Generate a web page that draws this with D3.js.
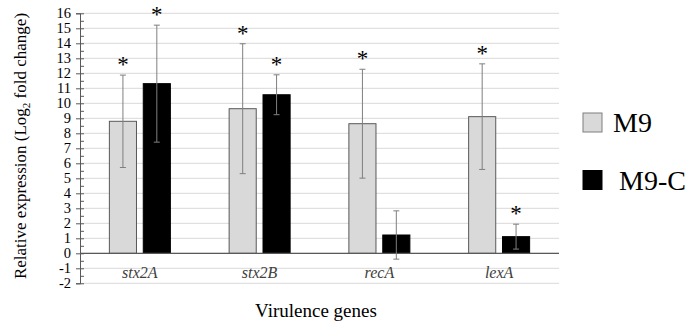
<!DOCTYPE html>
<html>
<head>
<meta charset="utf-8">
<script src="https://cdn.jsdelivr.net/npm/d3@7"></script>
<style>
  body { margin: 0; background: #fff; }
</style>
</head>
<body>
<svg id="chart"></svg>
<script>
var width = 694, height = 326;
var serif = "'Liberation Serif', 'DejaVu Serif', serif";

var genes = ["stx2A", "stx2B", "recA", "lexA"];
var series = ["M9", "M9-C"];
var m9Values = [8.8, 9.64, 8.64, 9.11];
var m9Errors = [3.08, 4.33, 3.63, 3.52];
var m9Signif = [true, true, true, true];
var m9cValues = [11.31, 10.57, 1.22, 1.11];
var m9cErrors = [3.9, 1.33, 1.61, 0.83];
var m9cSignif = [true, true, false, true];
var yTicks = [-2, -1, 0, 1, 2, 3, 4, 5, 6, 7, 8, 9, 10, 11, 12, 13, 14, 15, 16];
var yMinorTicks = [-1.5, -0.5, 0.5, 1.5, 2.5, 3.5, 4.5, 5.5, 6.5, 7.5, 8.5, 9.5, 10.5, 11.5, 12.5, 13.5, 14.5, 15.5];

var colors = { "M9": "#d9d9d9", "M9-C": "#000000" };

var svg = d3.select("#chart")
    .attr("width", width)
    .attr("height", height)
    .attr("font-family", serif);

var x = d3.scaleBand().domain(genes).range([80, 559]);
var y = d3.scaleLinear().domain([-2, 16]).range([283.3, 13.3]);

var xSub = d3.scaleBand().domain(series).range([-30.5, 30.5]).paddingInner(0.2);

// gridlines
svg.append("g").selectAll("line").data(yTicks).enter().append("line")
    .attr("x1", 80).attr("x2", 559)
    .attr("y1", d => y(d)).attr("y2", d => y(d))
    .attr("stroke", "#d9d9d9")
    .attr("stroke-width", 1);

// build rows
var rows = [];
genes.forEach(function(g, i) {
    rows.push({ gene: g, s: "M9", v: m9Values[i], e: m9Errors[i], sig: m9Signif[i] });
    rows.push({ gene: g, s: "M9-C", v: m9cValues[i], e: m9cErrors[i], sig: m9cSignif[i] });
});

function barX(d) {
    return x(d.gene) + x.bandwidth() / 2 + xSub(d.s);
}

svg.append("g").selectAll("rect").data(rows).enter().append("rect")
    .attr("x", d => barX(d))
    .attr("y", d => y(d.v))
    .attr("width", xSub.bandwidth())
    .attr("height", d => y(0) - y(d.v))
    .attr("fill", d => colors[d.s])
    .attr("stroke", d => d.s == "M9" ? "#595959" : "#000")
    .attr("stroke-width", 1);

// zero line
svg.append("line")
    .attr("x1", 80).attr("x2", 559)
    .attr("y1", y(0)).attr("y2", y(0))
    .attr("stroke", "#595959")
    .attr("stroke-width", 1.2);

// error bars
var errG = svg.append("g").attr("stroke", "#7f7f7f").attr("stroke-width", 1);
rows.forEach(function(d) {
    var cx = barX(d) + xSub.bandwidth() / 2;
    errG.append("line").attr("x1", cx).attr("x2", cx)
        .attr("y1", y(d.v + d.e)).attr("y2", y(d.v - d.e));
    [d.v + d.e, d.v - d.e].forEach(function(val) {
        errG.append("line").attr("x1", cx - 3).attr("x2", cx + 3)
            .attr("y1", y(val)).attr("y2", y(val));
    });
});

// asterisks
svg.append("g").selectAll("text").data(rows.filter(d => d.sig)).enter().append("text")
    .attr("x", d => barX(d) + xSub.bandwidth() / 2)
    .attr("y", d => y(d.v + d.e) - 3)
    .attr("text-anchor", "middle")
    .style("font-family", serif)
    .style("font-size", "23px")
    .attr("fill", "#000")
    .text("*");

// y axis: labels + left half of major ticks
var axisG = svg.append("g").attr("transform", "translate(80,0)")
    .call(d3.axisLeft(y).tickValues(yTicks).tickSize(4).tickPadding(5)
        .tickFormat(d => d < 0 ? "-" + Math.abs(d) : String(d)));
axisG.select(".domain").attr("stroke", "#595959");
axisG.selectAll(".tick line").attr("stroke", "#595959");
axisG.selectAll(".tick text")
    .style("font-family", serif)
    .style("font-size", "14.5px")
    .attr("fill", "#000");

// right half of major ticks, and minor ticks
var rightMajor = svg.append("g").attr("transform", "translate(80,0)")
    .call(d3.axisRight(y).tickValues(yTicks).tickSize(4).tickFormat(""));
var rightMinor = svg.append("g").attr("transform", "translate(80,0)")
    .call(d3.axisRight(y).tickValues(yMinorTicks).tickSize(4).tickFormat(""));
[rightMajor, rightMinor].forEach(function(g) {
    g.select(".domain").remove();
    g.selectAll(".tick line").attr("stroke", "#595959");
    g.selectAll(".tick text").remove();
});

// category labels
svg.append("g").selectAll("text").data(genes).enter().append("text")
    .attr("x", d => x(d) + x.bandwidth() / 2)
    .attr("y", 278)
    .attr("text-anchor", "middle")
    .style("font-family", serif)
    .style("font-size", "16px")
    .style("font-style", "italic")
    .attr("fill", "#404040")
    .text(d => d);

// axis titles
svg.append("text")
    .attr("x", 316).attr("y", 317)
    .attr("text-anchor", "middle")
    .style("font-family", serif)
    .style("font-size", "19px")
    .text("Virulence genes");

var yt = svg.append("text")
    .attr("transform", "translate(26,146) rotate(-90)")
    .attr("text-anchor", "middle")
    .style("font-family", serif)
    .style("font-size", "17px");
yt.append("tspan").text("Relative expression (Log");
yt.append("tspan").attr("dy", 4).style("font-size", "11px").text("2");
yt.append("tspan").attr("dy", -4).text(" fold change)");

// legend
var legend = svg.append("g").selectAll("g").data(series).enter().append("g")
    .attr("transform", (d, i) => "translate(583," + (113 + i * 57.5) + ")");
legend.append("rect")
    .attr("width", 19).attr("height", 19)
    .attr("fill", d => colors[d])
    .attr("stroke", d => d == "M9" ? "#7f7f7f" : "#000")
    .attr("stroke-width", 1);
legend.append("text")
    .attr("x", (d, i) => i == 0 ? 30 : 36)
    .attr("y", 19)
    .style("font-family", serif)
    .style("font-size", "28px")
    .text(d => d);
</script>
</body>
</html>
